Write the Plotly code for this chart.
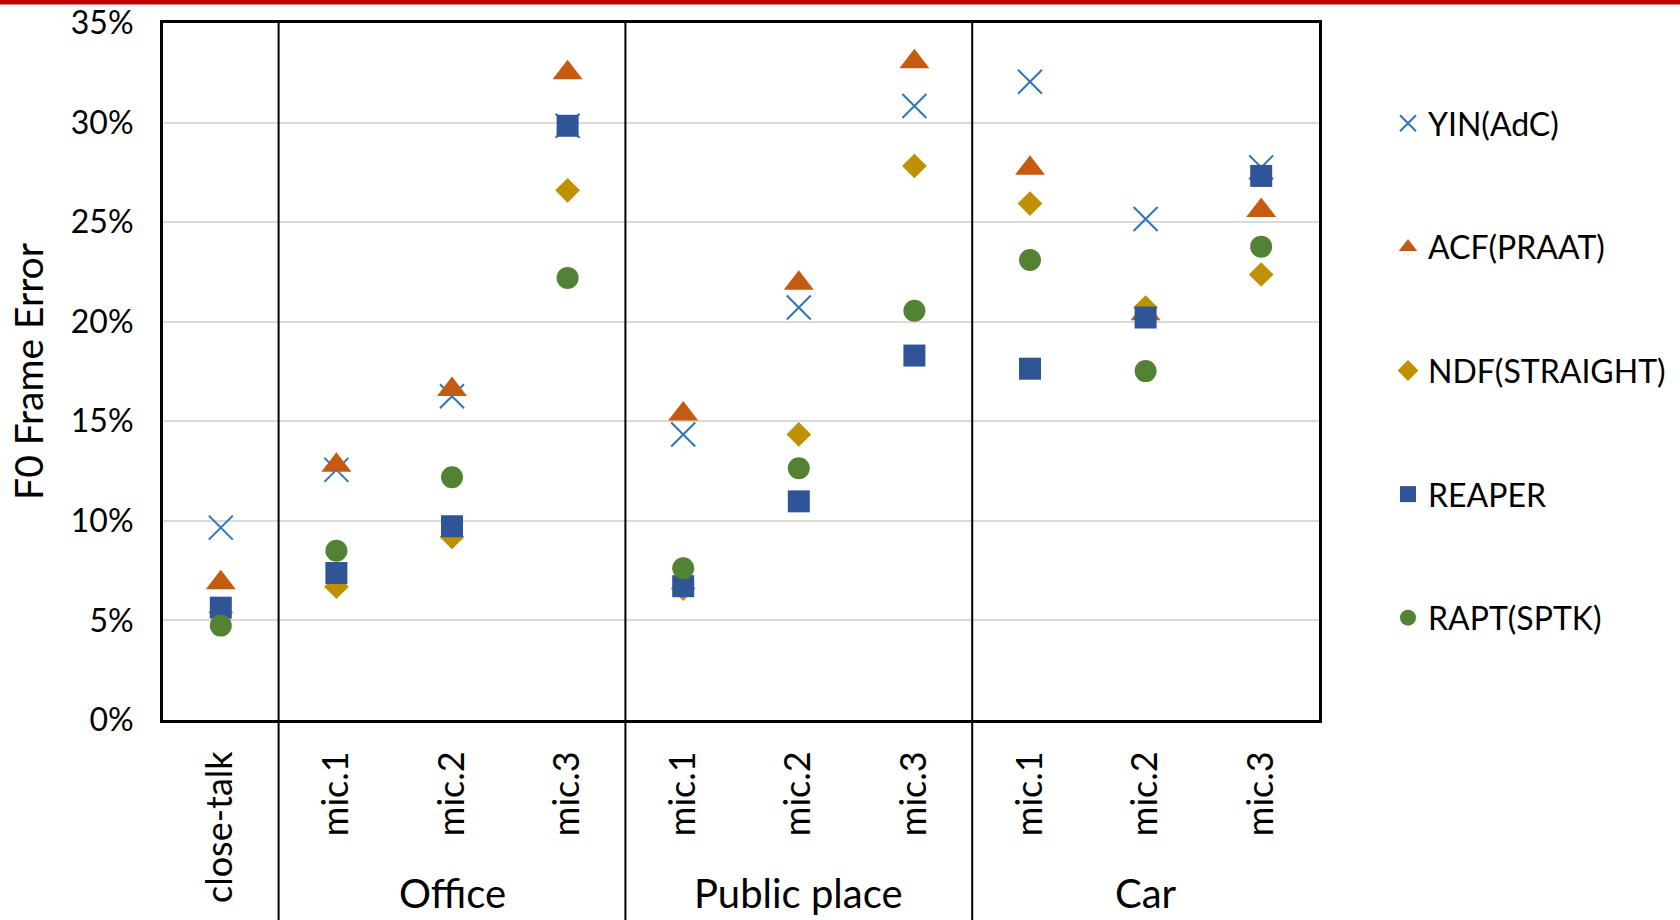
import plotly.graph_objects as go

# Recording conditions along the x axis
mic_labels = ["close-talk", "mic.1", "mic.2", "mic.3",
              "mic.1", "mic.2", "mic.3",
              "mic.1", "mic.2", "mic.3"]
group_names = ["", "Office", "Public place", "Car"]
group_sizes = [1, 3, 3, 3]

# F0 frame error (%) per estimator
yin_adc = [9.66, 12.56, 16.26, 29.84, 14.34, 20.71, 30.83, 32.05, 25.16, 27.75]
acf_praat = [6.89, 12.79, 16.6, 32.5, 15.36, 21.93, 33.05, 27.7, 20.4, 25.59]
ndf_straight = [5.4, 6.69, 9.19, 26.6, 6.6, 14.34, 27.82, 25.93, 20.71, 22.37]
reaper = [5.64, 7.38, 9.73, 29.84, 6.72, 10.98, 18.3, 17.64, 20.21, 27.32]
rapt_sptk = [4.74, 8.5, 12.19, 22.2, 7.62, 12.64, 20.55, 23.1, 17.52, 23.77]

y_ticks = [0, 5, 10, 15, 20, 25, 30, 35]
y_tick_labels = [f"{v}%" for v in y_ticks]

FONT = "Lato"
W, H = 1680, 920
M_L, M_R, M_T, M_B = 163, 361, 23, 200
plot_w = W - M_L - M_R
plot_h = H - M_T - M_B

x_pos = list(range(len(mic_labels)))

series = [
    ("YIN(AdC)", yin_adc, "x-thin", "#2E75B6", 24),
    ("ACF(PRAAT)", acf_praat, "triangle-up", "#C55A11", 26),
    ("NDF(STRAIGHT)", ndf_straight, "diamond", "#BF9000", 19),
    ("REAPER", reaper, "square", "#2F5597", 22),
    ("RAPT(SPTK)", rapt_sptk, "circle", "#548235", 22),
]

fig = go.Figure()
for i, (name, vals, sym, col, size) in enumerate(series):
    fig.add_trace(go.Scatter(
        x=x_pos, y=vals, mode="markers", name=name,
        legendgroup=f"g{i}",
        marker=dict(symbol=sym, size=size, color=col,
                    line=dict(width=2 if sym == "x-thin" else 0, color=col)),
    ))

shapes = []
annotations = []


def px_to_py(p):
    return (H - M_B - p) / plot_h


def px_to_px(p):
    return (p - M_L) / plot_w


# red rule across the very top of the page
shapes.append(dict(type="rect", xref="paper", yref="paper",
                   x0=px_to_px(0), x1=px_to_px(W), y0=px_to_py(4.5), y1=px_to_py(0),
                   fillcolor="#C00000", line=dict(width=0), layer="above"))

# group dividers and group labels below the category labels
start = 0
for gname, gsize in zip(group_names, group_sizes):
    end = start + gsize
    if end < len(mic_labels):
        shapes.append(dict(type="line", xref="x", yref="paper",
                           x0=end - 0.5, x1=end - 0.5, y0=1, y1=px_to_py(H),
                           line=dict(color="black", width=2)))
    if gname:
        annotations.append(dict(text=gname, xref="x", yref="paper",
                                x=(start + end - 1) / 2, y=px_to_py(893),
                                showarrow=False, yanchor="middle",
                                font=dict(family=FONT, size=40, color="black")))
    start = end

fig.update_layout(
    width=W, height=H,
    margin=dict(l=M_L, r=M_R, t=M_T, b=M_B, autoexpand=False),
    paper_bgcolor="white", plot_bgcolor="white",
    font=dict(family=FONT, color="black"),
    shapes=shapes, annotations=annotations,
    legend=dict(x=px_to_px(1388), y=px_to_py(96), xanchor="left", yanchor="top",
                font=dict(family=FONT, size=32, color="black"),
                tracegroupgap=79, itemsizing="trace", bgcolor="rgba(0,0,0,0)"),
    showlegend=True,
)

fig.update_xaxes(
    range=[-0.5, len(mic_labels) - 0.5],
    tickvals=x_pos, ticktext=mic_labels, tickangle=-90,
    tickfont=dict(family=FONT, size=36, color="black"),
    showgrid=False, zeroline=False,
    showline=True, linecolor="black", linewidth=3, mirror=True,
    ticks="", ticklabelstandoff=14,
)
fig.update_yaxes(
    range=[0, 35], tickvals=y_ticks, ticktext=y_tick_labels,
    tickfont=dict(family=FONT, size=32, color="black"),
    showgrid=True, gridcolor="#D9D9D9", gridwidth=2, zeroline=False,
    showline=True, linecolor="black", linewidth=3, mirror=True,
    ticks="", ticklabelstandoff=20,
    title=dict(text="F0 Frame Error", font=dict(family=FONT, size=39, color="black"),
               standoff=16),
)

fig.write_html("out.html")
